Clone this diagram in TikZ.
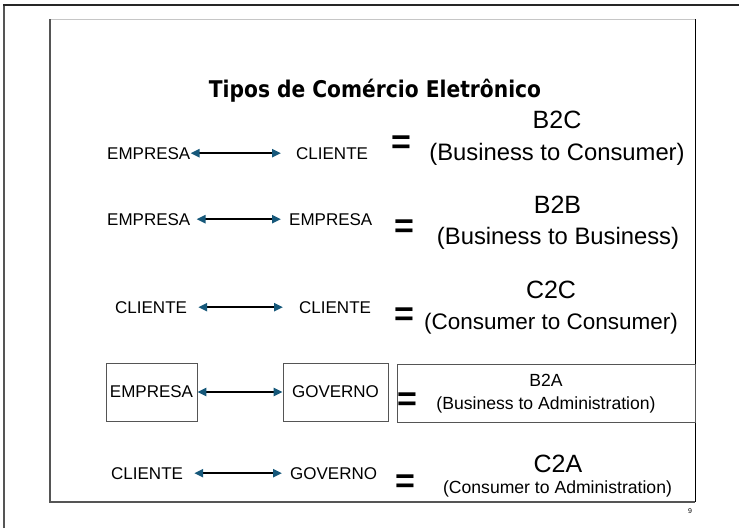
\documentclass[tikz,border=0pt]{standalone}
\usepackage{fontspec}
\setmainfont{Liberation Sans}
\newfontfamily\titlefont[FakeStretch=0.88]{DejaVu Sans}
\usetikzlibrary{arrows.meta}
\definecolor{tipblue}{RGB}{22,88,122}
\definecolor{framegray}{RGB}{85,85,85}

\begin{document}
\begin{tikzpicture}[
    x = 1pt, y = -1pt,
    every node/.append style = {inner sep = 0pt},
    party/.style = {font=\fontsize{17}{17}\selectfont, anchor=base west},
    code lbl/.style = {font=\fontsize{25}{25}\selectfont, anchor=base},
    long lbl/.style = {font=\fontsize{23.8}{24}\selectfont, anchor=base},
    eq sign/.style = {font=\fontsize{34}{34}\selectfont\bfseries, anchor=base},
    box/.style = {draw=framegray, line width=0.8pt, minimum height=58pt, anchor=center},
    link/.style = {line width=2.4pt,
        {Triangle[color=tipblue, length=9pt, width=8pt]}-{Triangle[color=tipblue, length=9pt, width=8pt]}}
]
\useasboundingbox (0,0) rectangle (739,528);

% frames
\draw[framegray, line width=2pt] (4,528) -- (4,5);
\draw[black!85, line width=1.6pt] (3,5) -- (739,5);
\draw[gray!45, line width=1pt] (50,19) -- (695,19);
\draw[framegray, line width=1.4pt] (50,19) -- (50,502) -- (695,502);
\draw[black, line width=1pt] (695,19) -- (695,502);

\node[font=\titlefont\bfseries\fontsize{23}{23}\selectfont, anchor=base] (title) at (375,97)
    {Tipos de Comércio Eletrônico};

% plain rows
\foreach \r/\y/\a/\b/\ax/\bx/\sa/\sb in {1/159/EMPRESA/CLIENTE/107/296/0/15,
        2/225/EMPRESA/EMPRESA/107/289/6/8,
        3/313/CLIENTE/CLIENTE/115/299/11/16,
        5/479/CLIENTE/GOVERNO/111/290/11/8}{
    \node[party] (l\r) at (\ax,\y) {\a};
    \node[party] (r\r) at (\bx,\y) {\b};
    \draw[link, shorten <=\sa pt, shorten >=\sb pt] (l\r.east) -- (r\r.west);
}

% boxed row
\node[box, font=\fontsize{17}{17}\selectfont, minimum width=91pt] (l4) at (151.5,392) {EMPRESA};
\node[box, font=\fontsize{17}{17}\selectfont, minimum width=105pt] (r4) at (335.5,392) {GOVERNO};
\draw[link] (l4.east) -- (r4.west);
\node[box, font=\fontsize{17.6}{23}\selectfont, align=center, minimum width=298pt] (t4) at (546,393.5)
    {B2A \\ (Business to Administration)};

% equal signs
\node[eq sign] (eq1) at (401,153) {=};
\node[eq sign] (eq2) at (404,237.5) {=};
\node[eq sign] (eq3) at (404,325.5) {=};
\node[eq sign] (eq4) at (407,410.5) {=};
\node[eq sign] (eq5) at (405,492.5) {=};

% types
\node[code lbl] (c1) at (557,128) {B2C};
\node[long lbl] (d1) at (557,160) {(Business to Consumer)};
\node[code lbl] (c2) at (557.5,213) {B2B};
\node[long lbl] (d2) at (558,244) {(Business to Business)};
\node[code lbl] (c3) at (551,298) {C2C};
\node[long lbl, font=\fontsize{22.5}{23}\selectfont] (d3) at (551,329) {(Consumer to Consumer)};
\node[code lbl] (c5) at (558,472) {C2A};
\node[font=\fontsize{17.6}{18}\selectfont, anchor=base] (d5) at (557.5,493.6) {(Consumer to Administration)};

\node[font=\fontsize{7}{7}\selectfont, anchor=base] (pg) at (690,513) {9};
\end{tikzpicture}
\end{document}
